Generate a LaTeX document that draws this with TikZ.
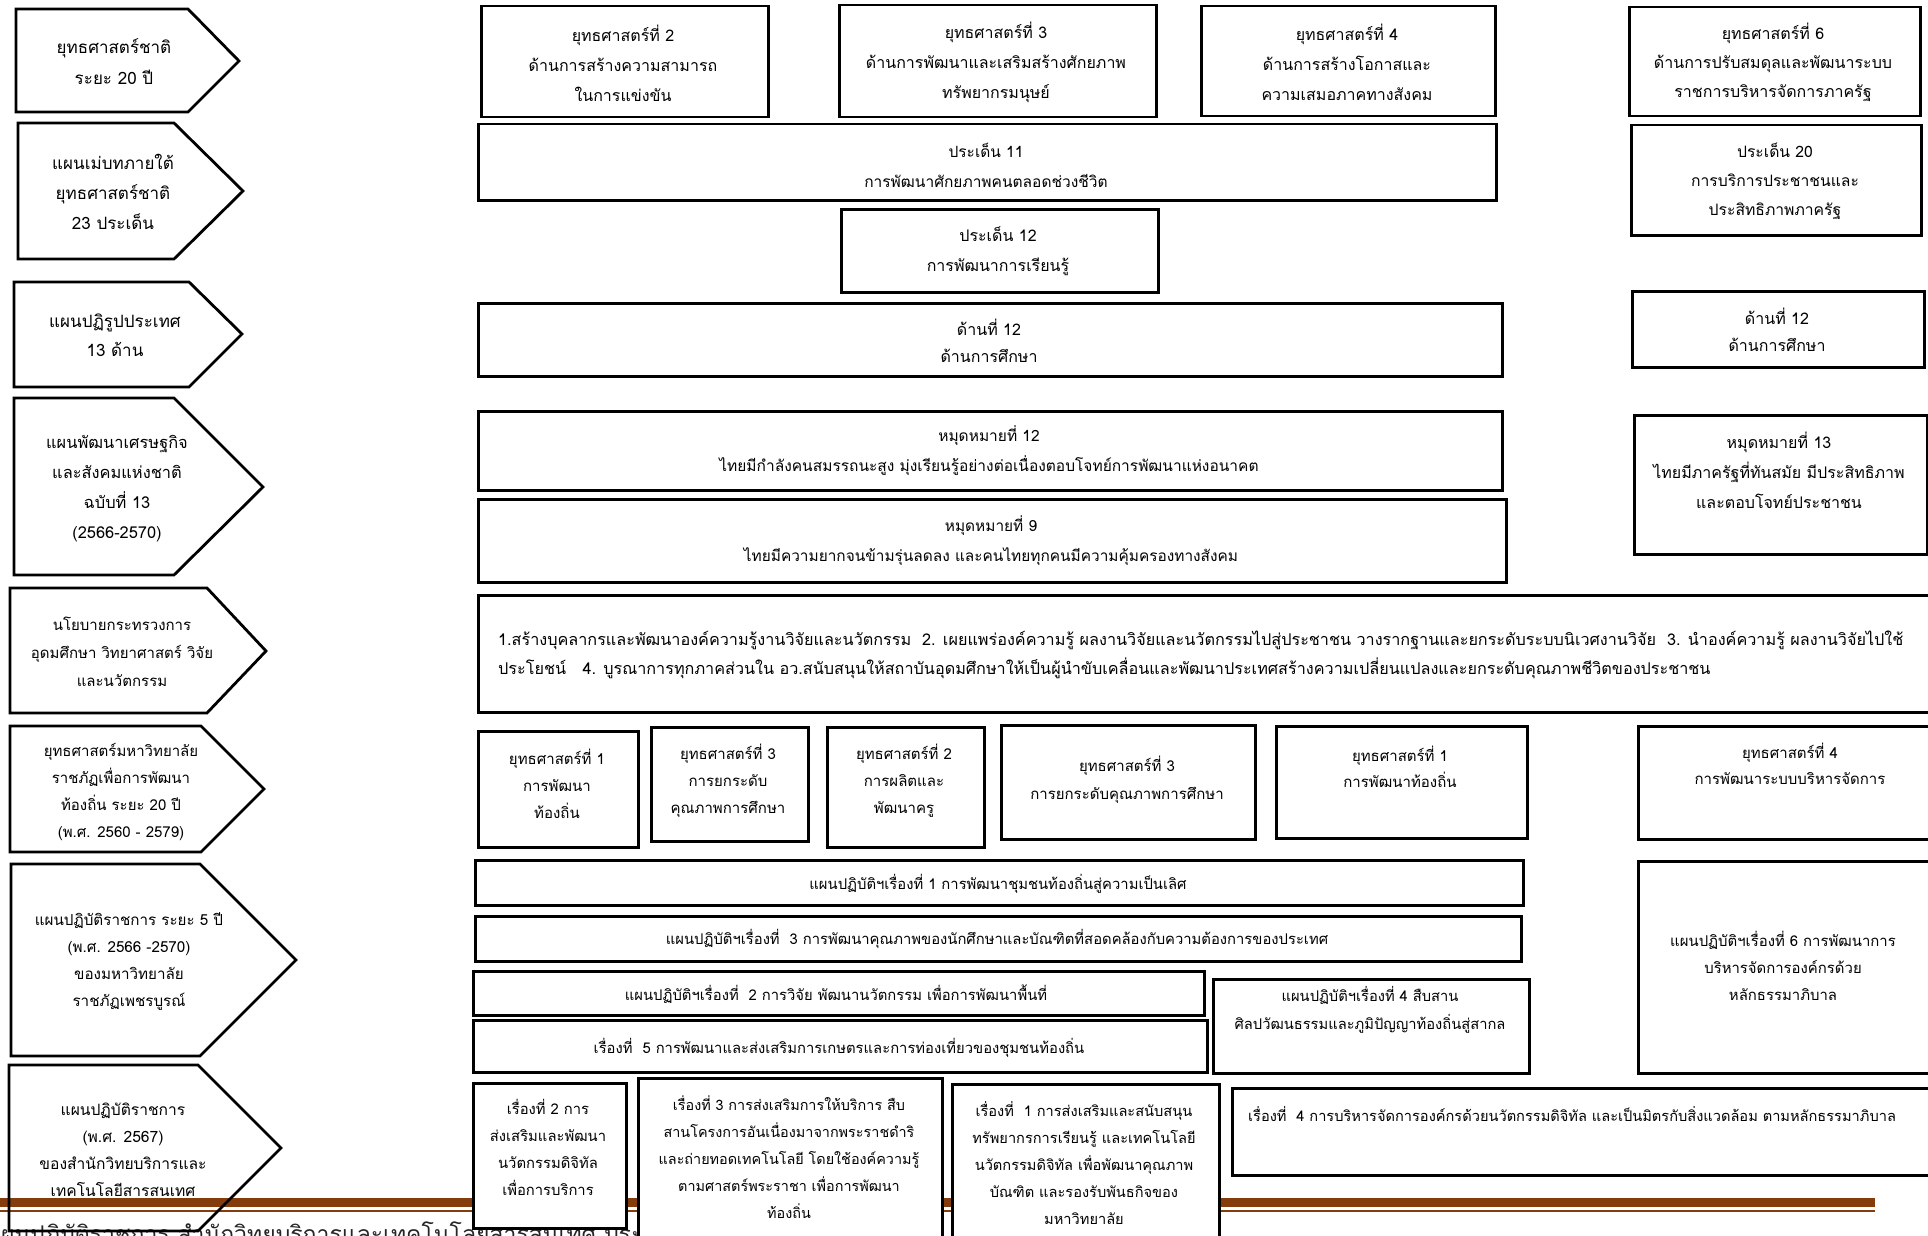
\documentclass[tikz,border=0pt]{standalone}
\usepackage{fontspec}
\newfontfamily\thai[Script=Thai]{Loma}
\definecolor{footbrown}{HTML}{843C0C}
\newcommand\bxx[5]{\node[bx, minimum width={(#4)-(#2)}, minimum height={(#5)-(#3)}] (#1) at (#2,#3) {};}
\newcommand\arr[7]{\draw[arrowbox] (#2,#3) -- (#4,#3) -- (#5,#6) -- (#4,#7) -- (#2,#7) -- cycle;
  \coordinate (#1) at (#5,#6);}
\begin{document}
\begin{tikzpicture}[x=1pt,y=-1pt]
\tikzset{
  bx/.style={draw=black, line width=2.5pt, fill=white, rectangle, inner sep=0pt, anchor=north west},
  arrowbox/.style={draw=black, line width=2.8pt, line join=miter},
  tx/.style 2 args={align=center, inner sep=0pt, font=\thai\fontsize{#1}{#2}\selectfont},
}
\useasboundingbox (0,0) rectangle (1928,1236);
% footer
\node[anchor=base west, inner sep=0pt, text=black!85, font=\thai\fontsize{23}{23}\selectfont] (foot) at (-14,1242) {แผนปฏิบัติราชการ สำนักวิทยบริการและเทคโนโลยีสารสนเทศ ประจำปี};
\fill[footbrown] (0,1198) rectangle (1875,1207);
\fill[footbrown] (0,1209.5) rectangle (1875,1211.5);
% left arrows
\arr{A1}{16}{9}{188}{239}{61}{112}
\arr{A2}{18}{123}{174}{243}{191}{259}
\arr{A3}{14}{282}{189}{242}{334}{387}
\arr{A4}{14}{398}{174}{263}{487}{575}
\arr{A5}{10}{588}{207}{266}{651}{713}
\arr{A6}{10}{726}{201}{264}{789}{852}
\arr{A7}{11}{864}{200}{296}{960}{1056}
\arr{A8}{9}{1065}{198}{281}{1148}{1231}
\node[tx={17}{31}] (A1t) at (114,62) {ยุทธศาสตร์ชาติ\\ระยะ 20 ปี};
\node[tx={17}{30}] (A2t) at (113,192) {แผนเม่บทภายใต้\\ยุทธศาสตร์ชาติ\\23 ประเด็น};
\node[tx={17}{29}] (A3t) at (115,335) {แผนปฏิรูปประเทศ\\13 ด้าน};
\node[tx={16.4}{30}] (A4t) at (117,489) {แผนพัฒนาเศรษฐกิจ\\และสังคมแห่งชาติ\\ฉบับที่ 13\\(2566-2570)};
\node[tx={15}{28}] (A5t) at (122,652) {นโยบายกระทรวงการ\\อุดมศึกษา วิทยาศาสตร์ วิจัย\\และนวัตกรรม};
\node[tx={15}{27}] (A6t) at (121,792) {ยุทธศาสตร์มหาวิทยาลัย\\ราชภัฏเพื่อการพัฒนา\\ท้องถิ่น ระยะ 20 ปี\\(พ.ศ. 2560 - 2579)};
\node[tx={15.2}{27}] (A7t) at (129,962) {แผนปฏิบัติราชการ ระยะ 5 ปี\\(พ.ศ. 2566 -2570)\\ของมหาวิทยาลัย\\ราชภัฏเพชรบูรณ์};
\node[tx={15.6}{27}] (A8t) at (123,1150) {แผนปฏิบัติราชการ\\(พ.ศ. 2567)\\ของสำนักวิทยบริการและ\\เทคโนโลยีสารสนเทศ};
% boxes
\bxx{s2}{480}{5}{767}{116}
\bxx{s3}{838}{4}{1155}{116}
\bxx{s4}{1200}{5}{1494}{115}
\bxx{s6}{1628}{6}{1919}{115}
\bxx{p11}{477}{123}{1495}{199}
\bxx{p20}{1630}{124}{1920}{234}
\bxx{p12}{840}{208}{1157}{291}
\bxx{d12}{477}{302}{1501}{375}
\bxx{d12r}{1631}{290}{1923}{366}
\bxx{m12}{477}{410}{1501}{489}
\bxx{m9}{477}{498}{1505}{581}
\bxx{m13}{1633}{414}{1926}{553}
\bxx{pol}{477}{594}{1940}{711}
\bxx{u1a}{477}{730}{637}{846}
\bxx{u3a}{650}{726}{807}{840}
\bxx{u2a}{826}{726}{983}{846}
\bxx{u3b}{1000}{724}{1254}{838}
\bxx{u1b}{1275}{725}{1526}{837}
\bxx{u4}{1637}{725}{1940}{838}
\bxx{a1}{474}{859}{1522}{904}
\bxx{a3}{474}{915}{1520}{960}
\bxx{a2}{472}{970}{1203}{1014}
\bxx{r5}{472}{1019}{1206}{1071}
\bxx{a4}{1212}{978}{1528}{1072}
\bxx{a6}{1637}{860}{1940}{1072}
\bxx{r2}{472}{1082}{625}{1227}
\bxx{r3}{637}{1077}{941}{1250}
\bxx{r1}{951}{1083}{1218}{1250}
\bxx{r4}{1231}{1087}{1940}{1174}
% texts
\node[tx={16}{30}] (s2t) at (623,63) {ยุทธศาสตร์ที่ 2\\ด้านการสร้างความสามารถ\\ในการแข่งขัน};
\node[tx={16}{30}] (s3t) at (996,62) {ยุทธศาสตร์ที่ 3\\ด้านการพัฒนาและเสริมสร้างศักยภาพ\\ทรัพยากรมนุษย์};
\node[tx={16}{30}] (s4t) at (1347,62) {ยุทธศาสตร์ที่ 4\\ด้านการสร้างโอกาสและ\\ความเสมอภาคทางสังคม};
\node[tx={16}{29}] (s6t) at (1773,62) {ยุทธศาสตร์ที่ 6\\ด้านการปรับสมดุลและพัฒนาระบบ\\ราชการบริหารจัดการภาครัฐ};
\node[tx={15.5}{30}] (p11t) at (986,165) {ประเด็น 11\\การพัฒนาศักยภาพคนตลอดช่วงชีวิต};
\node[tx={15.7}{29}] (p20t) at (1775,181) {ประเด็น 20\\การบริการประชาชนและ\\ประสิทธิภาพภาครัฐ};
\node[tx={16}{30}] (p12t) at (998,251) {ประเด็น 12\\การพัฒนาการเรียนรู้};
\node[tx={16}{27}] (d12tt) at (989,341) {ด้านที่ 12\\ด้านการศึกษา};
\node[tx={16}{27}] (d12rt) at (1777,330) {ด้านที่ 12\\ด้านการศึกษา};
\node[tx={15.5}{30}] (m12t) at (989,451) {หมุดหมายที่ 12\\ไทยมีกำลังคนสมรรถนะสูง มุ่งเรียนรู้อย่างต่อเนื่องตอบโจทย์การพัฒนาแห่งอนาคต};
\node[tx={15.4}{30}] (m9t) at (991,541) {หมุดหมายที่ 9\\ไทยมีความยากจนข้ามรุ่นลดลง และคนไทยทุกคนมีความคุ้มครองทางสังคม};
\node[tx={16}{30}] (m13t) at (1779,470) {หมุดหมายที่ 13\\ไทยมีภาครัฐที่ทันสมัย มีประสิทธิภาพ\\และตอบโจทย์ประชาชน};
\node[tx={16.2}{29}, align=left, anchor=west] (polt) at (498,655) {1.สร้างบุคลากรและพัฒนาองค์ความรู้งานวิจัยและนวัตกรรม\ \ 2. เผยแพร่องค์ความรู้ ผลงานวิจัยและนวัตกรรมไปสู่ประชาชน วางรากฐานและยกระดับระบบนิเวศงานวิจัย\ \ 3. นำองค์ความรู้ ผลงานวิจัยไปใช้\\ประโยชน์\ \ \ 4. บูรณาการทุกภาคส่วนใน อว.สนับสนุนให้สถาบันอุดมศึกษาให้เป็นผู้นำขับเคลื่อนและพัฒนาประเทศสร้างความเปลี่ยนแปลงและยกระดับคุณภาพชีวิตของประชาชน};
\node[tx={15}{27}] (u1at) at (557,784) {ยุทธศาสตร์ที่ 1\\การพัฒนา\\ท้องถิ่น};
\node[tx={15}{27}] (u3at) at (728,781) {ยุทธศาสตร์ที่ 3\\การยกระดับ\\คุณภาพการศึกษา};
\node[tx={15}{27}] (u2at) at (904,781) {ยุทธศาสตร์ที่ 2\\การผลิตและ\\พัฒนาครู};
\node[tx={15}{28}] (u3bt) at (1127,780) {ยุทธศาสตร์ที่ 3\\การยกระดับคุณภาพการศึกษา};
\node[tx={15}{26}] (u1bt) at (1400,767) {ยุทธศาสตร์ที่ 1\\การพัฒนาท้องถิ่น};
\node[tx={15}{26}] (u4t) at (1790,764) {ยุทธศาสตร์ที่ 4\\การพัฒนาระบบบริหารจัดการ};
\node[tx={14.8}{27}] (a1t) at (998,884) {แผนปฏิบัติฯเรื่องที่ 1 การพัฒนาชุมชนท้องถิ่นสู่ความเป็นเลิศ};
\node[tx={14.8}{27}] (a3t) at (997,939) {แผนปฏิบัติฯเรื่องที่\ \ 3 การพัฒนาคุณภาพของนักศึกษาและบัณฑิตที่สอดคล้องกับความต้องการของประเทศ};
\node[tx={14.8}{27}] (a2t) at (836,994) {แผนปฏิบัติฯเรื่องที่\ \ 2 การวิจัย พัฒนานวัตกรรม เพื่อการพัฒนาพื้นที่};
\node[tx={14.8}{27}] (r5t) at (839,1048) {เรื่องที่\ \ 5 การพัฒนาและส่งเสริมการเกษตรและการท่องเที่ยวของชุมชนท้องถิ่น};
\node[tx={14.7}{28}] (a4t) at (1370,1010) {แผนปฏิบัติฯเรื่องที่ 4 สืบสาน\\ศิลปวัฒนธรรมและภูมิปัญญาท้องถิ่นสู่สากล};
\node[tx={14.9}{27}] (a6t) at (1783,966) {แผนปฏิบัติฯเรื่องที่ 6 การพัฒนาการ\\บริหารจัดการองค์กรด้วย\\หลักธรรมาภิบาล};
\node[tx={14.8}{27}] (r2t) at (548,1147) {เรื่องที่ 2 การ\\ส่งเสริมและพัฒนา\\นวัตกรรมดิจิทัล\\เพื่อการบริการ};
\node[tx={14.4}{27}] (r3t) at (789,1157) {เรื่องที่ 3 การส่งเสริมการให้บริการ สืบ\\สานโครงการอันเนื่องมาจากพระราชดำริ\\และถ่ายทอดเทคโนโลยี โดยใช้องค์ความรู้\\ตามศาสตร์พระราชา เพื่อการพัฒนา\\ท้องถิ่น};
\node[tx={14.6}{27}] (r1t) at (1084,1163) {เรื่องที่\ \ 1 การส่งเสริมและสนับสนุน\\ทรัพยากรการเรียนรู้ และเทคโนโลยี\\นวัตกรรมดิจิทัล เพื่อพัฒนาคุณภาพ\\บัณฑิต และรองรับพันธกิจของ\\มหาวิทยาลัย};
\node[tx={14.6}{27}, anchor=west] (r4t) at (1248,1114) {เรื่องที่\ \ 4 การบริหารจัดการองค์กรด้วยนวัตกรรมดิจิทัล และเป็นมิตรกับสิ่งแวดล้อม ตามหลักธรรมาภิบาล};
\end{tikzpicture}
\end{document}
